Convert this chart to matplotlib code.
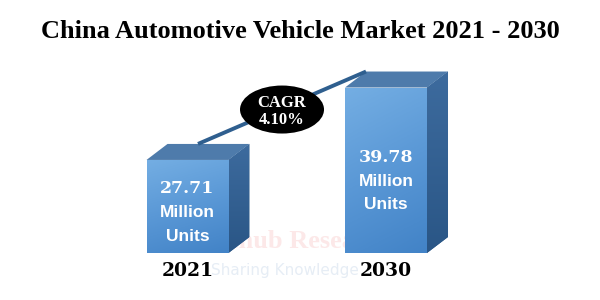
import numpy as np
import matplotlib
matplotlib.use("Agg")
import matplotlib.pyplot as plt
from matplotlib.patches import Polygon, Ellipse
from matplotlib.colors import LinearSegmentedColormap

# ---- data ----
title = "China Automotive Vehicle Market 2021 - 2030"
years = ["2021", "2030"]
values = [27.71, 39.78]
unit_words = ["Million", "Units"]
cagr_label = ["CAGR", "4.10%"]
watermark = ["Renub Research", "Sharing Knowledge"]

BASE = 12.2   # visible baseline of the value axis

fig = plt.figure(figsize=(6, 3), dpi=100)
fig.patch.set_facecolor("white")
ax = fig.add_axes([0, 47 / 300, 1, 197 / 300])
ax.set_xlim(-0.9446, 2.078)
ax.set_ylim(BASE, BASE + 197 / 6.0)
ax.axis("off")

x = np.arange(len(values))
w = 0.413
# depth of the 3D box, from pixels to data units
inv = ax.transData.inverted()
p0 = inv.transform(ax.transData.transform((0, BASE)))
p1 = inv.transform(ax.transData.transform((0, BASE)) + np.array([21, 16]))
dx, dy = p1 - p0

# watermark (behind the bars)
ax.text(0.5, 1 - 242 / 300, watermark[0], ha="center", va="center",
        fontsize=19, fontweight="bold", family="Liberation Serif",
        color="#fce8e8", zorder=1, transform=fig.transFigure, clip_on=False)
ax.text(0.475, 1 - 271 / 300, watermark[1], ha="center", va="center",
        fontsize=11, family="DejaVu Sans", color="#e6edf5", zorder=1,
        transform=fig.transFigure, clip_on=False)

front_cmap = LinearSegmentedColormap.from_list("f", ["#74aee3", "#5a98d6", "#4283c7"])
side_cmap = LinearSegmentedColormap.from_list("s", ["#3d6b9e", "#2a5686"])

bars = ax.bar(x, values, width=w, color="#5b9bd5", zorder=3)
for xi, v, rect in zip(x, values, bars):
    xl, xr = xi - w / 2, xi + w / 2
    grad = np.linspace(0, 1, 100).reshape(-1, 1)
    grad = grad + np.linspace(0, 0.25, 50).reshape(1, -1)
    im = ax.imshow(grad, cmap=front_cmap, aspect="auto", origin="upper",
                   extent=[xl, xr, BASE, v], zorder=3.5, vmin=0, vmax=1.25)
    im.set_clip_path(rect)
    side = Polygon([[xr, BASE], [xr + dx, BASE + dy], [xr + dx, v + dy], [xr, v]],
                   closed=True, facecolor="#33608f", edgecolor="none", zorder=3)
    ax.add_patch(side)
    gs = np.linspace(0, 1, 100).reshape(-1, 1)
    ims = ax.imshow(gs, cmap=side_cmap, aspect="auto", origin="upper",
                    extent=[xr, xr + dx, BASE, v + dy], zorder=3.2)
    ims.set_clip_path(side)
    top = Polygon([[xl, v], [xr, v], [xr + dx, v + dy], [xl + dx, v + dy]],
                  closed=True, facecolor="#4e7bab", edgecolor="none", zorder=3.4)
    ax.add_patch(top)

# value labels inside bars
for xi, v in zip(x, values):
    yc = BASE + 0.435 * (v - BASE)
    ax.annotate(f"{v:.2f}", (xi, yc), xytext=(0, 17), textcoords="offset points",
                ha="center", va="center", color="white", fontsize=12.5,
                fontweight="bold", family="DejaVu Serif", zorder=6)
    ax.annotate(unit_words[0], (xi, yc), xytext=(0, 0), textcoords="offset points",
                ha="center", va="center", color="white", fontsize=12.5,
                fontweight="bold", family="Liberation Sans", zorder=6)
    ax.annotate(unit_words[1], (xi, yc), xytext=(0, -17), textcoords="offset points",
                ha="center", va="center", color="white", fontsize=12.5,
                fontweight="bold", family="Liberation Sans", zorder=6)
    ax.annotate(years[xi], (xi, BASE), xytext=(0, -13), textcoords="offset points",
                ha="center", va="center", color="black", fontsize=13.5,
                fontweight="bold", family="DejaVu Serif", annotation_clip=False)

# trend line
ls = (x[0] + dx / 2, values[0] + dy)
le = (x[1] - w / 2 + dx, values[1] + dy)
ax.plot([ls[0], le[0]], [ls[1], le[1]], color="#2f5f8f", lw=2.8, zorder=4,
        solid_capstyle="butt")

# CAGR ellipse
mx, my = (ls[0] + le[0]) / 2, (ls[1] + le[1]) / 2
ell = Ellipse((mx, my - 0.3), width=84 / 198.5, height=48 / 6.0,
              facecolor="black", edgecolor="none", zorder=5)
ax.add_patch(ell)
ax.annotate(cagr_label[0], (mx, my), xytext=(0, 3.5), textcoords="offset points",
            ha="center", va="center", color="white", fontsize=12,
            fontweight="bold", family="Liberation Serif", zorder=6)
ax.annotate(cagr_label[1], (mx, my), xytext=(0, -9), textcoords="offset points",
            ha="center", va="center", color="white", fontsize=12,
            fontweight="bold", family="Liberation Serif", zorder=6)

fig.text(0.5, 1 - 31 / 300, title, ha="center", va="center", fontsize=19,
         fontweight="bold", family="Liberation Serif", color="black")

fig.savefig("out.png", dpi=100, facecolor="white")
